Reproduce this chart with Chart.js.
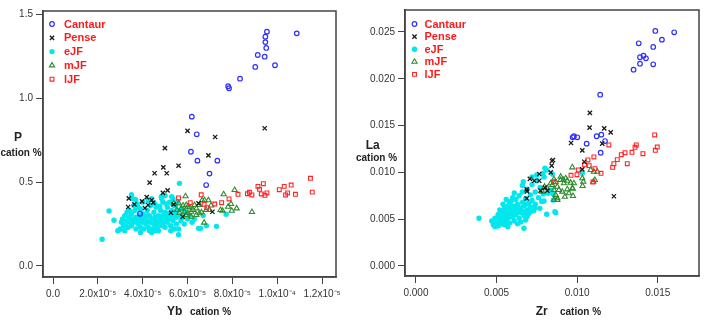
<!DOCTYPE html>
<html>
<head>
<meta charset="utf-8">
<script src="https://cdn.jsdelivr.net/npm/chart.js@4.4.1/dist/chart.umd.min.js"></script>
<style>
html, body { margin: 0; padding: 0; background: #fff; }
#wrap { position: relative; width: 708px; height: 322px; }
canvas { position: absolute; top: 0; }
#leftChart { left: 0; }
#rightChart { left: 354px; }
</style>
</head>
<body>
<div id="wrap">
<canvas id="leftChart" width="354" height="322"></canvas>
<canvas id="rightChart" width="354" height="322"></canvas>
</div>
<script>
// groups, in legend order
const groups = ['Cantaur', 'Pense', 'eJF', 'mJF', 'lJF'];

// left panel: Yb (x, in units of 1e-5 cation %) vs P (cation %)
const cantaurYbP = [[9.54,1.395],[10.87,1.385],[9.47,1.365],[9.47,1.333],[9.51,1.298],[9.13,1.256],[9.44,1.246],[9.02,1.185],[9.9,1.195],[8.34,1.115],[7.81,1.07],[7.85,1.058],[6.19,0.889],[6.41,0.784],[6.15,0.68],[6.44,0.627],[7.33,0.627],[6.98,0.55],[6.83,0.482],[3.88,0.311]];
const penseYbP = [[6.0,0.804],[9.44,0.82],[7.23,0.768],[4.99,0.702],[6.93,0.659],[5.6,0.597],[4.92,0.587],[4.53,0.552],[5.07,0.552],[4.31,0.496],[5.11,0.45],[4.9,0.435],[3.38,0.403],[4.18,0.41],[3.97,0.385],[4.4,0.393],[4.47,0.377],[3.63,0.367],[3.35,0.351],[4.24,0.363],[4.1,0.345],[5.38,0.367],[5.26,0.317],[5.78,0.293],[6.49,0.373],[7.11,0.323]];
const eJFYbP = [[2.19,0.159],[2.5,0.327],[2.72,0.272],[2.89,0.21],[2.95,0.215],[5.64,0.492],[3.5,0.424],[3.69,0.395],[5.6,0.186],[6.49,0.224],[6.59,0.224],[7.29,0.236],[7.72,0.308],[6.84,0.24],[5.29,0.413],[4.83,0.413],[6.7,0.3],[6.3,0.28],
  [3.05,0.26],[3.1,0.28],[3.15,0.24],[3.2,0.3],[3.25,0.25],[3.3,0.27],[3.35,0.23],[3.4,0.29],[3.45,0.26],[3.5,0.31],[3.5,0.24],[3.55,0.28],[3.6,0.26],[3.65,0.33],[3.7,0.22],[3.7,0.29],[3.75,0.27],[3.8,0.25],[3.85,0.3],[3.9,0.23],[3.9,0.34],[3.95,0.28],[4.0,0.26],[4.0,0.31],[4.05,0.22],[4.1,0.29],[4.15,0.25],[4.2,0.33],[4.2,0.27],[4.25,0.23],[4.3,0.3],[4.35,0.26],[4.35,0.36],[4.4,0.28],[4.45,0.22],[4.5,0.32],[4.5,0.25],[4.55,0.29],[4.6,0.27],[4.6,0.35],[4.65,0.23],[4.7,0.3],[4.75,0.26],[4.8,0.33],[4.8,0.28],[4.85,0.24],[4.9,0.38],[4.9,0.3],[4.95,0.27],[5.0,0.32],[5.0,0.23],[5.05,0.29],[5.1,0.35],[5.1,0.26],[5.15,0.31],[5.2,0.28],[5.25,0.24],[5.3,0.33],[5.3,0.3],[5.35,0.27],[5.4,0.36],[5.45,0.31],[5.5,0.25],[5.5,0.29],[5.55,0.33],[5.6,0.22],[5.65,0.3],[5.7,0.27],[5.75,0.34],[5.8,0.29],[5.85,0.25],[5.9,0.32],[6.0,0.28],[6.1,0.3],[6.2,0.26],[4.3,0.21],[4.7,0.21],[3.6,0.36],[4.0,0.38],[4.4,0.4],[5.2,0.38],[5.0,0.42],[3.3,0.32],[4.6,0.245],[4.2,0.3],[4.9,0.25],[3.85,0.27],[5.25,0.21],[3.0,0.22],[4.75,0.355],[5.45,0.36],
  [3.55,0.4],[3.75,0.37],[4.25,0.39],[4.55,0.37],[4.85,0.4],[5.05,0.37],[5.35,0.4],[5.55,0.38],[3.4,0.33],[3.8,0.35],[3.2,0.21],[3.9,0.2],[4.4,0.2],[5.4,0.22],[4.55,0.21]];
const mJFYbP = [[8.87,0.321],[8.1,0.452],[7.61,0.427],[8.19,0.343],[7.97,0.329],[7.81,0.353],[7.94,0.369],[7.56,0.329],[7.47,0.333],[6.93,0.391],[6.76,0.391],[6.65,0.391],[6.74,0.258],[6.62,0.32],[6.83,0.333],[5.91,0.415],[5.61,0.373],[5.72,0.343],[5.94,0.363],[6.09,0.349],[6.24,0.333],[6.39,0.343],[5.52,0.333],[5.87,0.323],[6.01,0.314],[6.39,0.304],[5.64,0.317],[6.53,0.363],[5.38,0.373],[6.01,0.353],[6.16,0.323],[6.31,0.363],[6.16,0.293],[5.94,0.304],[6.53,0.314],[6.98,0.333],[7.05,0.36],[5.8,0.36]];
const lJFYbP = [[11.48,0.522],[11.56,0.44],[10.62,0.482],[10.31,0.474],[10.09,0.454],[10.46,0.435],[10.37,0.423],[10.81,0.427],[9.38,0.49],[9.14,0.474],[9.21,0.456],[9.54,0.435],[9.29,0.429],[9.45,0.421],[8.76,0.439],[8.67,0.43],[8.87,0.423],[8.25,0.427],[7.85,0.399],[7.52,0.377],[7.21,0.369],[6.61,0.424],[6.74,0.367],[5.6,0.405],[6.12,0.377],[6.86,0.347]];

// right panel: Zr (x, cation %) vs La (cation %)
const cantaurZrLa = [[0.01485,0.02511],[0.01602,0.02497],[0.01526,0.02418],[0.01382,0.02379],[0.01472,0.0234],[0.0139,0.0223],[0.01412,0.02247],[0.01427,0.02219],[0.0139,0.02161],[0.01472,0.02155],[0.0135,0.02097],[0.01143,0.0183],[0.0098,0.01386],[0.01001,0.01375],[0.00972,0.01375],[0.01121,0.01386],[0.0115,0.01403],[0.01059,0.01307],[0.01173,0.01335],[0.01146,0.0121]];
const penseZrLa = [[0.01079,0.01635],[0.01077,0.01478],[0.01168,0.01471],[0.01208,0.01428],[0.00962,0.01314],[0.01156,0.01307],[0.01032,0.01236],[0.0085,0.01132],[0.01044,0.01114],[0.01032,0.01033],[0.01228,0.00745],[0.00844,0.01122],[0.00842,0.01072],[0.00836,0.01001],[0.00765,0.00983],[0.00707,0.0093],[0.00734,0.00911],[0.00765,0.00911],[0.008,0.00837],[0.00815,0.00805],[0.00773,0.00805],[0.00687,0.00819],[0.00689,0.00798],[0.00687,0.00723]];
const eJFZrLa = [[0.00391,0.0051],[0.0067,0.00403],[0.00867,0.0057],[0.00811,0.00552],[0.00794,0.00694],[0.00852,0.00705],[0.00788,0.0099],[0.00846,0.00983],[0.00795,0.0095],[0.01032,0.0099],[0.0084,0.00812],[0.00852,0.00766],[0.00811,0.01026],[0.008,0.01044],[0.00821,0.00777],[0.00769,0.00616],[0.00862,0.0058],[0.00749,0.00972],[0.00666,0.009],[0.0072,0.0095],
  [0.0047,0.0048],[0.0048,0.0044],[0.0049,0.0042],[0.005,0.0046],[0.005,0.0051],[0.0051,0.0043],[0.0051,0.0055],[0.0052,0.0048],[0.0052,0.006],[0.0053,0.0045],[0.0053,0.0052],[0.0054,0.0057],[0.0054,0.0049],[0.0055,0.0044],[0.0055,0.0062],[0.0055,0.0053],[0.0056,0.0047],[0.0056,0.0058],[0.0057,0.0051],[0.0057,0.0064],[0.0058,0.0055],[0.0058,0.0046],[0.0059,0.006],[0.0059,0.0069],[0.006,0.0052],[0.006,0.0057],[0.0061,0.0064],[0.0061,0.0048],[0.0062,0.0055],[0.0062,0.0071],[0.0063,0.0059],[0.0063,0.0066],[0.0064,0.0051],[0.0064,0.0075],[0.0065,0.0062],[0.0065,0.0057],[0.0066,0.0068],[0.0066,0.0079],[0.0067,0.0054],[0.0067,0.0064],[0.0068,0.0072],[0.0068,0.0049],[0.0069,0.006],[0.0069,0.0082],[0.007,0.0067],[0.007,0.0056],[0.0071,0.0076],[0.0071,0.0063],[0.0072,0.0087],[0.0072,0.007],[0.0073,0.0059],[0.0074,0.0079],[0.0074,0.0066],[0.0075,0.0091],[0.0076,0.0073],[0.0077,0.0084],[0.0078,0.0069],[0.0079,0.0077],[0.0057,0.0042],[0.0054,0.0066],[0.0056,0.0071],[0.0061,0.0078],[0.0063,0.0045],[0.0058,0.0068],[0.0062,0.0061],[0.006,0.0073],[0.0065,0.0047],[0.0068,0.0066],[0.0053,0.0058],[0.0049,0.0051],[0.0066,0.0086],[0.0064,0.0058],[0.0059,0.0064],[0.0057,0.0059],[0.0052,0.0053],[0.0056,0.0052],[0.0069,0.0053],[0.0071,0.0058],[0.0074,0.0062],[0.0067,0.0058]];
const mJFZrLa = [[0.0097,0.01054],[0.01032,0.00937],[0.01034,0.00855],[0.00974,0.00748],[0.01084,0.01026],[0.01104,0.01007],[0.01125,0.01007],[0.011,0.009],[0.0111,0.00919],[0.00877,0.00723],[0.00867,0.00759],[0.00856,0.00812],[0.00846,0.00865],[0.00898,0.00919],[0.00918,0.00884],[0.00939,0.00911],[0.0096,0.0089],[0.0098,0.00884],[0.00877,0.00847],[0.00887,0.00812],[0.00908,0.00794],[0.00939,0.00819],[0.0097,0.0083],[0.00856,0.00926],[0.00836,0.00884],[0.00867,0.009],[0.00898,0.00954],[0.00929,0.00937],[0.00798,0.00847],[0.00784,0.00794],[0.00815,0.0083],[0.00949,0.00777],[0.00856,0.00705],[0.01038,0.009],[0.00972,0.00826],[0.00914,0.00919],[0.00924,0.0074],[0.00877,0.00705]];
const lJFZrLa = [[0.01481,0.014],[0.01497,0.01271],[0.01485,0.01236],[0.01367,0.01293],[0.01359,0.01268],[0.0134,0.01215],[0.01408,0.012],[0.01297,0.0121],[0.01274,0.01189],[0.01249,0.01136],[0.01228,0.01093],[0.0122,0.01054],[0.01311,0.01093],[0.01197,0.01293],[0.01104,0.01165],[0.01067,0.01133],[0.01075,0.01072],[0.01007,0.01026],[0.00999,0.00975],[0.00962,0.00969],[0.01148,0.0099],[0.0111,0.0104],[0.01098,0.00897],[0.00856,0.009],[0.01046,0.0108]];

// ticks
const ybTicks = [0, 2e-5, 4e-5, 6e-5, 8e-5, 1e-4, 1.2e-4];
const ybTickLabels = ['0.0', '2.0x10\u207B\u2075', '4.0x10\u207B\u2075', '6.0x10\u207B\u2075', '8.0x10\u207B\u2075', '1.0x10\u207B\u2074', '1.2x10\u207B\u2075'];
const pTicks = [0, 0.5, 1.0, 1.5];
const zrTicks = [0, 0.005, 0.01, 0.015];
const laTicks = [0, 0.005, 0.01, 0.015, 0.02, 0.025];

const YB_UNIT = 1e-5;

const styles = {
    Cantaur: { pointStyle: 'circle', radius: 2.3, borderColor: '#2f2fff', backgroundColor: 'rgba(0,0,0,0)', borderWidth: 1.2, order: 1 },
    Pense: { pointStyle: 'crossRot', radius: 3, borderColor: '#1a1a1a', backgroundColor: 'rgba(0,0,0,0)', borderWidth: 1.3, order: 0 },
    eJF: { pointStyle: 'circle', radius: 2.7, borderColor: '#00e8ee', backgroundColor: '#00e8ee', borderWidth: 0, order: 4 },
    mJF: { pointStyle: 'triangle', radius: 3, borderColor: '#2e8b2e', backgroundColor: 'rgba(0,0,0,0)', borderWidth: 1.1, order: 3 },
    lJF: { pointStyle: 'rect', radius: 2.7, borderColor: '#ff2626', backgroundColor: 'rgba(0,0,0,0)', borderWidth: 1.1, order: 2 }
};

function toPoints(pairs, xScale) {
    return pairs.map(p => ({ x: p[0] * xScale, y: p[1] }));
}

function buildDatasets(series, xScale) {
    return groups.map((g, i) => {
        const s = styles[g];
        return {
            label: g,
            data: toPoints(series[i], xScale),
            pointStyle: s.pointStyle,
            pointRadius: s.radius,
            pointBorderColor: s.borderColor,
            pointBackgroundColor: s.backgroundColor,
            pointBorderWidth: s.borderWidth,
            borderColor: s.borderColor,
            backgroundColor: s.backgroundColor,
            order: s.order,
            showLine: false
        };
    });
}

// box around the plot area
const frame = {
    id: 'frame',
    afterDraw(chart) {
        const a = chart.chartArea, ctx = chart.ctx;
        ctx.save();
        ctx.strokeStyle = '#444';
        ctx.lineWidth = 1.5;
        ctx.strokeRect(a.left, a.top, a.right - a.left, a.bottom - a.top);
        ctx.restore();
    }
};

// legend in the top-left corner of the plot area
const cornerLegend = {
    id: 'cornerLegend',
    afterDraw(chart, args, opts) {
        const a = chart.chartArea, ctx = chart.ctx;
        ctx.save();
        groups.forEach((g, i) => {
            const s = styles[g];
            const y = a.top + opts.top + i * opts.step;
            ctx.strokeStyle = s.borderColor;
            ctx.fillStyle = s.backgroundColor;
            ctx.lineWidth = s.borderWidth;
            Chart.helpers.drawPoint(ctx, { pointStyle: s.pointStyle, radius: s.radius, rotation: 0, borderWidth: s.borderWidth }, a.left + opts.marker, y);
            ctx.fillStyle = '#ff1a1a';
            ctx.font = 'bold 11px "Liberation Sans", Arial, sans-serif';
            ctx.textBaseline = 'middle';
            ctx.textAlign = 'left';
            ctx.fillText(g, a.left + opts.text, y + 0.5);
        });
        ctx.restore();
    }
};

// horizontal axis titles: bold element name + smaller "cation %"
const axisTitles = {
    id: 'axisTitles',
    afterDraw(chart, args, opts) {
        const ctx = chart.ctx;
        ctx.save();
        ctx.fillStyle = '#222';
        ctx.textBaseline = 'middle';
        ctx.textAlign = 'center';
        ctx.font = 'bold 12px "Liberation Sans", Arial, sans-serif';
        ctx.fillText(opts.yName, opts.yNameX, opts.yNameY);
        ctx.font = 'bold 10px "Liberation Sans", Arial, sans-serif';
        ctx.fillText('cation %', opts.yUnitX, opts.yUnitY);
        ctx.textAlign = 'left';
        ctx.font = 'bold 12px "Liberation Sans", Arial, sans-serif';
        ctx.fillText(opts.xName, opts.xNameX, 312);
        ctx.font = 'bold 10px "Liberation Sans", Arial, sans-serif';
        ctx.fillText('cation %', opts.xUnitX, 312.5);
        ctx.restore();
    }
};

function axisStyle() {
    return {
        grid: { display: true, drawOnChartArea: false, drawTicks: true, tickLength: 7, color: '#444', lineWidth: 1 },
        border: { display: true, color: '#444', width: 1.5 }
    };
}

function makeChart(id, cfg) {
    const xAxis = Object.assign(axisStyle(), {
        type: 'linear',
        min: cfg.xMin, max: cfg.xMax,
        afterBuildTicks: s => { s.ticks = cfg.xTicks.map(v => ({ value: v })); },
        afterFit: s => { s.height = cfg.xHeight; },
        ticks: {
            autoSkip: false, maxRotation: 0, padding: 4, color: '#333',
            font: { family: '"Liberation Sans", Arial, sans-serif', size: 10 },
            callback: cfg.xLabel
        }
    });
    const yAxis = Object.assign(axisStyle(), {
        type: 'linear',
        min: cfg.yMin, max: cfg.yMax,
        afterBuildTicks: s => { s.ticks = cfg.yTicks.map(v => ({ value: v })); },
        afterFit: s => { s.width = cfg.yWidth; },
        ticks: {
            autoSkip: false, padding: 3, color: '#333',
            font: { family: '"Liberation Sans", Arial, sans-serif', size: 10 },
            callback: cfg.yLabel
        }
    });
    return new Chart(document.getElementById(id), {
        type: 'scatter',
        data: { datasets: cfg.datasets },
        options: {
            responsive: false,
            animation: false,
            devicePixelRatio: 1,
            events: [],
            layout: { padding: { top: cfg.padTop, right: cfg.padRight, left: 0, bottom: 0 } },
            scales: { x: xAxis, y: yAxis },
            plugins: {
                legend: { display: false },
                tooltip: { enabled: false },
                cornerLegend: cfg.legend,
                axisTitles: cfg.titles
            }
        },
        plugins: [frame, cornerLegend, axisTitles]
    });
}

makeChart('leftChart', {
    datasets: buildDatasets([cantaurYbP, penseYbP, eJFYbP, mJFYbP, lJFYbP], YB_UNIT),
    xMin: -0.446e-5, xMax: 12.62e-5, xTicks: ybTicks,
    xLabel: (v, i) => ybTickLabels[i],
    yMin: -0.0655, yMax: 1.518, yTicks: pTicks,
    yLabel: v => v.toFixed(1),
    xHeight: 45, yWidth: 43, padTop: 11, padRight: 18,
    legend: { marker: 9, text: 21, top: 13, step: 13.8 },
    titles: { yName: 'P', yNameX: 18, yNameY: 138, yUnitX: 21, yUnitY: 153, xName: 'Yb', xNameX: 167, xUnitX: 190 }
});

makeChart('rightChart', {
    datasets: buildDatasets([cantaurZrLa, penseZrLa, eJFZrLa, mJFZrLa, lJFZrLa], 1),
    xMin: -0.00068, xMax: 0.01756, xTicks: zrTicks,
    xLabel: v => v.toFixed(3),
    yMin: -0.00107, yMax: 0.02735, yTicks: laTicks,
    yLabel: v => v.toFixed(3),
    xHeight: 46, yWidth: 51, padTop: 10, padRight: 9,
    legend: { marker: 9.5, text: 19.5, top: 14, step: 12.6 },
    titles: { yName: 'La', yNameX: 18.7, yNameY: 146, yUnitX: 22.5, yUnitY: 158, xName: 'Zr', xNameX: 181.7, xUnitX: 206 }
});
</script>
</body>
</html>
